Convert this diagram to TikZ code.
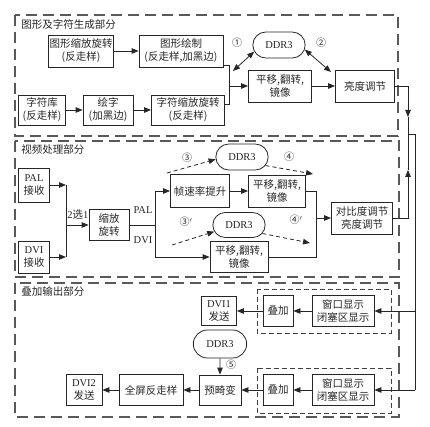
\documentclass[tikz,border=0pt]{standalone}
\usepackage{fontspec}
\setmainfont{Liberation Serif}
\newfontfamily\cjk{Noto Sans CJK SC}
\newfontfamily\lat{Liberation Serif}
\usetikzlibrary{arrows.meta,shapes.misc}

\begin{document}
\begin{tikzpicture}[x=1pt,y=-1pt,color=black!85,line width=0.8pt,
    >={Triangle[length=7pt,width=5.5pt]},
    blk/.style={draw, align=center, inner sep=1pt, minimum height=31pt,
        font=\cjk\fontsize{10.5}{13}\selectfont},
    ddr/.style={draw, rounded rectangle, minimum width=59pt, minimum height=26pt,
        font=\lat\fontsize{10.5}{12}\selectfont},
    part/.style={draw=black!65, line width=1.3pt, dash pattern=on 11pt off 6pt},
    subpart/.style={draw=black!75, line width=0.9pt, dash pattern=on 5pt off 3pt},
    parttitle/.style={anchor=west, inner sep=0pt, font=\cjk\fontsize{10.5}{12}\selectfont},
    num/.style={inner sep=0pt, font=\cjk\fontsize{10}{11}\selectfont},
    latlbl/.style={inner sep=0pt, font=\lat\fontsize{10.5}{12}\selectfont},
    link/.style={dash pattern=on 4pt off 3pt}]

    \useasboundingbox (0,0) rectangle (430,427);

    % Draw the three parts
    \draw[part] (15,15) rectangle (398,136);
    \draw[part] (15,141) rectangle (399,277);
    \draw[part] (15,283) rectangle (399,417);
    \node[parttitle] (t1) at (21,25) {图形及字符生成部分};
    \node[parttitle] (t2) at (21,150) {视频处理部分};
    \node[parttitle] (t3) at (21,292) {叠加输出部分};

    % Graphics and characters
    \node[blk, minimum width=62pt, minimum height=32pt] (gscale) at (81,51) {图形缩放旋转\\(反走样)};
    \node[blk, minimum width=84pt, minimum height=32pt] (gdraw) at (181,51) {图形绘制\\(反走样,加黑边)};
    \node[blk, minimum width=47pt, minimum height=30pt] (clib) at (42,110) {字符库\\(反走样)};
    \node[blk, minimum width=50pt, minimum height=30pt] (cdraw) at (108,110) {绘字\\(加黑边)};
    \node[blk, minimum width=73pt, minimum height=30pt] (cscale) at (188,110) {字符缩放旋转\\(反走样)};
    \node[ddr] (ddrA) at (279,45) {DDR3};
    \node[blk, minimum width=63pt, minimum height=32pt] (shiftA) at (280,86) {平移,翻转,\\镜像};
    \node[blk, minimum width=59pt, minimum height=32pt] (brightA) at (365,86) {亮度调节};

    \coordinate (jA) at (229,65);
    \coordinate (jB) at (229,104);
    \coordinate (jM) at (229,86);
    \coordinate (p1) at (233,71);
    \coordinate (p2) at (331,72);

    \draw[->] (gscale) -- (gdraw);
    \draw[->] (clib) -- (cdraw);
    \draw[->] (cdraw) -- (cscale);
    \draw (gdraw.east |- jA) -- (jA) -- (jB) -- (cscale.east |- jB);
    \draw[->] (jM) -- (shiftA);
    \draw[->] (shiftA) -- (brightA);
    \draw[<->] (p1) -- (ddrA.195);
    \draw[<->] (ddrA.-10) -- (p2);
    \node[num] (n1) at (237,43) {①};
    \node[num] (n2) at (321,43) {②};

    % Video processing
    \node[blk, minimum width=31pt, minimum height=34pt] (palR) at (34,185) {{\lat PAL}\\接收};
    \node[blk, minimum width=31pt, minimum height=32pt] (dviR) at (34,257) {{\lat DVI}\\接收};
    \node[blk, minimum width=40pt, minimum height=31pt] (zoomR) at (109,225) {缩放\\旋转};
    \node[blk, minimum width=59pt, minimum height=33pt] (fps) at (200,191) {帧速率提升};
    \node[blk, minimum width=57pt, minimum height=32pt] (shiftB) at (277,191) {平移,翻转,\\镜像};
    \node[ddr] (ddrB) at (242,157) {DDR3};
    \node[ddr, minimum height=25pt] (ddrC) at (239,225) {DDR3};
    \node[blk, minimum width=58pt, minimum height=31pt] (shiftC) at (239,257) {平移,翻转,\\镜像};
    \node[blk, minimum width=61pt, minimum height=32pt] (contr) at (362,218) {对比度调节\\亮度调节};

    \coordinate (sel1) at (66,185);
    \coordinate (sel2) at (66,257);
    \coordinate (selM) at (66,225);
    \coordinate (br1) at (155,191);
    \coordinate (br2) at (155,257);
    \coordinate (brM) at (155,225);
    \coordinate (mg1) at (316,191);
    \coordinate (mg2) at (316,257);
    \coordinate (mgM) at (316,218);

    \draw[->] (palR) -- (sel1);
    \draw[->] (dviR) -- (sel2);
    \draw (sel1) -- (sel2);
    \draw[->] (selM) -- (zoomR);
    \node[latlbl, anchor=south west] (sel) at (67,220) {2{\cjk 选}1};
    \draw (zoomR) -- (brM);
    \draw (br1) -- (br2);
    \draw[->] (br1) -- (fps);
    \draw[->] (br2) -- (shiftC);
    \node[latlbl] (lpal) at (143,210) {PAL};
    \node[latlbl] (ldvi) at (143,240) {DVI};
    \draw[->] (fps) -- (shiftB);
    \draw (shiftB) -- (mg1) -- (mg2) -- (shiftC);
    \draw[->] (mgM) -- (contr);

    % DDR3 read and write
    \coordinate (q3) at (167,173);
    \coordinate (q4) at (313,174);
    \coordinate (q3b) at (172,245);
    \coordinate (q4b) at (310,243);
    \draw[->, link] (q3) -- (ddrB.185);
    \draw[->, link] (ddrB.-20) -- (q4);
    \draw[->, link] (q3b) -- (ddrC.195);
    \draw[->, link] (ddrC.-20) -- (q4b);
    \node[num] (n3) at (187,158) {③};
    \node[num] (n4) at (289,157) {④};
    \node[num] (n3b) at (186,222) {③$'$};
    \node[num] (n4b) at (296,220) {④$'$};

    % Overlay and output
    \draw[subpart] (257,289) rectangle (391,333);
    \draw[subpart] (257,368) rectangle (391,413);
    \node[blk, minimum width=30pt] (ovA) at (278,311) {叠加};
    \node[blk, minimum width=62pt] (winA) at (343,311) {窗口显示\\闭塞区显示};
    \node[blk, minimum width=35pt, minimum height=29pt] (dvi1) at (219,311) {{\lat DVI1}\\发送};
    \node[ddr, minimum width=60pt, minimum height=28pt] (ddrD) at (220,344) {DDR3};
    \node[blk, minimum width=30pt] (ovB) at (278,390) {叠加};
    \node[blk, minimum width=62pt] (winB) at (343,390) {窗口显示\\闭塞区显示};
    \node[blk, minimum width=42pt, minimum height=30pt] (pre) at (220,390) {预畸变};
    \node[blk, minimum width=64pt] (fsaa) at (151,390) {全屏反走样};
    \node[blk, minimum width=36pt] (dvi2) at (84,390) {{\lat DVI2}\\发送};

    \draw[->] (winA) -- (ovA);
    \draw[->] (ovA) -- (dvi1);
    \draw[->] (ddrD) -- (pre);
    \node[num] (n5) at (231,365) {⑤};
    \draw[->] (winB) -- (ovB);
    \draw[->] (ovB) -- (pre);
    \draw[->] (pre) -- (fsaa);
    \draw[->] (fsaa) -- (dvi2);

    % Right side bus
    \coordinate (tA) at (408,117);
    \coordinate (tB) at (408,170);
    \coordinate (jR) at (408,134);
    \coordinate (jR2) at (415,134);
    \coordinate (jE) at (415,390);
    \draw[->] (brightA) -| (tA);
    \draw (tA) -- (jR) -- (jR2) -- (jE);
    \draw[->] (contr) -| (tB);
    \draw (tB) -- (jR);
    \draw[->] (jE) -- (winB);
    \draw[->] (winA -| jR2) -- (winA);

\end{tikzpicture}
\end{document}
